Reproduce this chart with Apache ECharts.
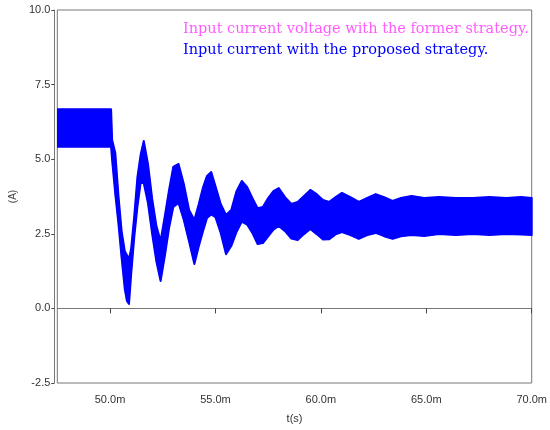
<!DOCTYPE html>
<html>
<head>
<meta charset="utf-8">
<script src="https://cdn.jsdelivr.net/npm/echarts@6/dist/echarts.min.js"></script>
<style>
  html, body { margin: 0; padding: 0; background: #fff; }
  #chart { width: 550px; height: 430px; }
</style>
</head>
<body>
<div id="chart"></div>
<script>
var timeMs = [47.5, 50.05, 50.1, 50.25, 50.4, 50.55, 50.7, 50.8, 50.9, 51.0,
  51.15, 51.3, 51.45, 51.6, 51.8, 52.0, 52.2, 52.4, 52.6, 52.8,
  53.0, 53.25, 53.5, 53.75, 54.0, 54.2, 54.4, 54.6, 54.8, 55.0,
  55.25, 55.5, 55.75, 56.0, 56.25, 56.5, 56.75, 57.0, 57.25, 57.5,
  57.75, 58.0, 58.3, 58.6, 58.9, 59.2, 59.5, 59.8, 60.1, 60.4,
  60.7, 61.0, 61.4, 61.8, 62.2, 62.6, 63.0, 63.4, 63.8, 64.3,
  64.9, 65.6, 66.4, 67.2, 68.0, 68.8, 69.5, 70.0];

// upper edge of the current band (A)
var upper = [6.67, 6.67, 5.64, 5.21, 3.77, 2.59, 1.92, 1.79, 1.66, 1.99,
  3.10, 4.40, 5.14, 5.61, 4.84, 3.67, 2.76, 2.26, 3.10, 3.97,
  4.74, 4.84, 4.17, 3.30, 2.96, 3.47, 4.03, 4.44, 4.57, 4.10,
  3.50, 3.13, 3.30, 3.93, 4.27, 4.07, 3.70, 3.36, 3.40, 3.70,
  3.93, 4.03, 3.73, 3.50, 3.57, 3.77, 3.97, 3.83, 3.63, 3.57,
  3.73, 3.87, 3.73, 3.57, 3.70, 3.83, 3.73, 3.60, 3.70, 3.77,
  3.70, 3.73, 3.70, 3.70, 3.73, 3.70, 3.73, 3.70];

// lower edge of the current band (A)
var lower = [5.42, 5.42, 4.97, 3.83, 2.83, 1.69, 0.65, 0.25, 0.15, 1.12,
  2.39, 3.41, 4.20, 4.20, 3.53, 2.49, 1.57, 0.92, 1.76, 2.69,
  3.40, 3.53, 2.96, 2.24, 1.49, 2.06, 2.56, 3.03, 3.15, 3.06,
  2.53, 1.82, 2.09, 2.56, 2.91, 2.81, 2.53, 2.16, 2.19, 2.41,
  2.64, 2.76, 2.59, 2.34, 2.29, 2.49, 2.66, 2.49, 2.31, 2.32,
  2.48, 2.56, 2.46, 2.33, 2.46, 2.53, 2.42, 2.33, 2.42, 2.46,
  2.43, 2.49, 2.46, 2.49, 2.46, 2.49, 2.48, 2.46];

var xTicks = [50, 55, 60, 65, 70];
var legendFormer = "Input current voltage with the former strategy.";
var legendProposed = "Input current with the proposed strategy.";

var chart = echarts.init(document.getElementById("chart"));

var upperPts = timeMs.map(function (t, i) { return [t, upper[i]]; });
var lowerPts = timeMs.map(function (t, i) { return [t, lower[i]]; });

// one polygon: along the upper edge, back along the lower edge
function renderBand(params, api) {
  if (params.dataIndex !== 0) return null;
  var pts = [];
  for (var i = 0; i < timeMs.length; i++) pts.push(api.coord([timeMs[i], upper[i]]));
  for (var j = timeMs.length - 1; j >= 0; j--) pts.push(api.coord([timeMs[j], lower[j]]));
  return {
    type: "polygon",
    shape: { points: pts },
    style: { fill: "#0000ff", stroke: "#0000ff", lineWidth: 2, lineJoin: "round" }
  };
}

var axisFont = { fontFamily: "Liberation Sans, Arial, sans-serif", fontSize: 11, color: "#333" };

var option = {
  animation: false,
  backgroundColor: "#fff",
  grid: {
    left: 54, right: 12, top: 10, bottom: 47,
    show: true, borderColor: "#777", borderWidth: 1
  },
  xAxis: {
    type: "value",
    min: 47.5,
    max: 70,
    offset: 3,
    name: "t(s)",
    nameLocation: "middle",
    nameGap: 27,
    nameTextStyle: axisFont,
    axisLine: { show: true, lineStyle: { color: "#777", width: 1 } },
    axisTick: { show: true, length: 5, customValues: xTicks, lineStyle: { color: "#444" } },
    axisLabel: Object.assign({
      customValues: xTicks,
      margin: 8,
      formatter: function (v) { return v.toFixed(1) + "m"; }
    }, axisFont),
    splitLine: { show: false }
  },
  yAxis: {
    type: "value",
    min: -2.5,
    max: 10,
    interval: 2.5,
    offset: 3,
    name: "(A)",
    nameLocation: "middle",
    nameRotate: 90,
    nameGap: 36,
    nameTextStyle: { fontFamily: "Liberation Sans, Arial, sans-serif", fontSize: 10, color: "#444" },
    axisLine: { show: true, lineStyle: { color: "#777", width: 1 } },
    axisTick: { show: true, length: 3, lineStyle: { color: "#444" } },
    axisLabel: Object.assign({
      margin: 4,
      formatter: function (v) { return v.toFixed(1); }
    }, axisFont),
    splitLine: { show: false }
  },
  graphic: [
    {
      type: "text", left: 183, top: 22,
      style: { text: legendFormer, fill: "#ff5cff", font: "14.5px 'DejaVu Serif', serif" }
    },
    {
      type: "text", left: 183, top: 43,
      style: { text: legendProposed, fill: "#0000ff", font: "14.5px 'DejaVu Serif', serif" }
    }
  ],
  series: [
    {
      name: "former upper", type: "line", data: upperPts, symbol: "none", z: 1,
      lineStyle: { color: "#ff40ff", width: 1 }
    },
    {
      name: "former lower", type: "line", data: lowerPts, symbol: "none", z: 1,
      lineStyle: { color: "#ff40ff", width: 1 }
    },
    {
      name: "proposed", type: "custom", renderItem: renderBand,
      data: upperPts, clip: true, z: 5
    }
  ]
};

chart.setOption(option);
</script>
</body>
</html>
